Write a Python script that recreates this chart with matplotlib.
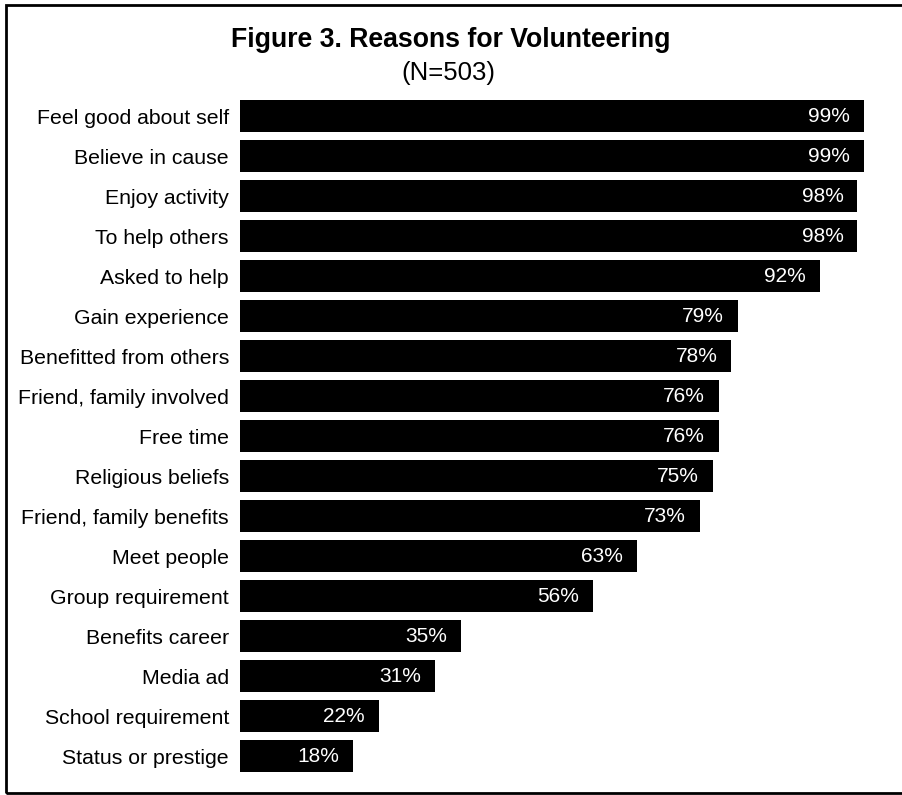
import matplotlib
matplotlib.use("Agg")
import matplotlib.pyplot as plt
from matplotlib.patches import Rectangle

plt.rcParams['font.family'] = ['Liberation Sans', 'DejaVu Sans']

reasons = ["Feel good about self", "Believe in cause", "Enjoy activity", "To help others",
           "Asked to help", "Gain experience", "Benefitted from others",
           "Friend, family involved", "Free time", "Religious beliefs",
           "Friend, family benefits", "Meet people", "Group requirement",
           "Benefits career", "Media ad", "School requirement", "Status or prestige"]
percents = [99, 99, 98, 98, 92, 79, 78, 76, 76, 75, 73, 63, 56, 35, 31, 22, 18]

W, H = 902, 795
fig = plt.figure(figsize=(W / 100, H / 100), dpi=100)

# axes placed in pixel terms: bars start at x=240, rows centred 116..756
ax_left, ax_right = 240, 870
ax_top, ax_bot = 96, 776
ax = fig.add_axes([ax_left / W, (H - ax_bot) / H, (ax_right - ax_left) / W, (ax_bot - ax_top) / H])

ypos = list(range(len(reasons)))
ax.barh(ypos, percents, height=0.78, color="black")
for y, p in zip(ypos, percents):
    ax.text(p - 2.2, y, f"{p}%", color="white", ha="right", va="center", fontsize=15)

ax.set_xlim(0, 100)
ax.set_ylim(len(reasons) - 0.5, -0.5)
ax.set_yticks(ypos)
ax.set_yticklabels(reasons, fontsize=15.3)
ax.tick_params(axis="y", length=0, pad=8)
ax.set_xticks([])
for s in ax.spines.values():
    s.set_visible(False)

fig.text(451 / W, 1 - 40 / H, "Figure 3. Reasons for Volunteering", ha="center", va="center",
         fontsize=19.2, fontweight="bold")
fig.text(448 / W, 1 - 73 / H, "(N=503)", ha="center", va="center", fontsize=18.5)

# outer frame (right side runs off the page)
fig.patches.append(Rectangle((6 / W, 2 / H), 1.2, 1 - 7 / H, transform=fig.transFigure,
                             fill=False, edgecolor="black", linewidth=2, clip_on=False))

fig.savefig("out.png", dpi=100)
